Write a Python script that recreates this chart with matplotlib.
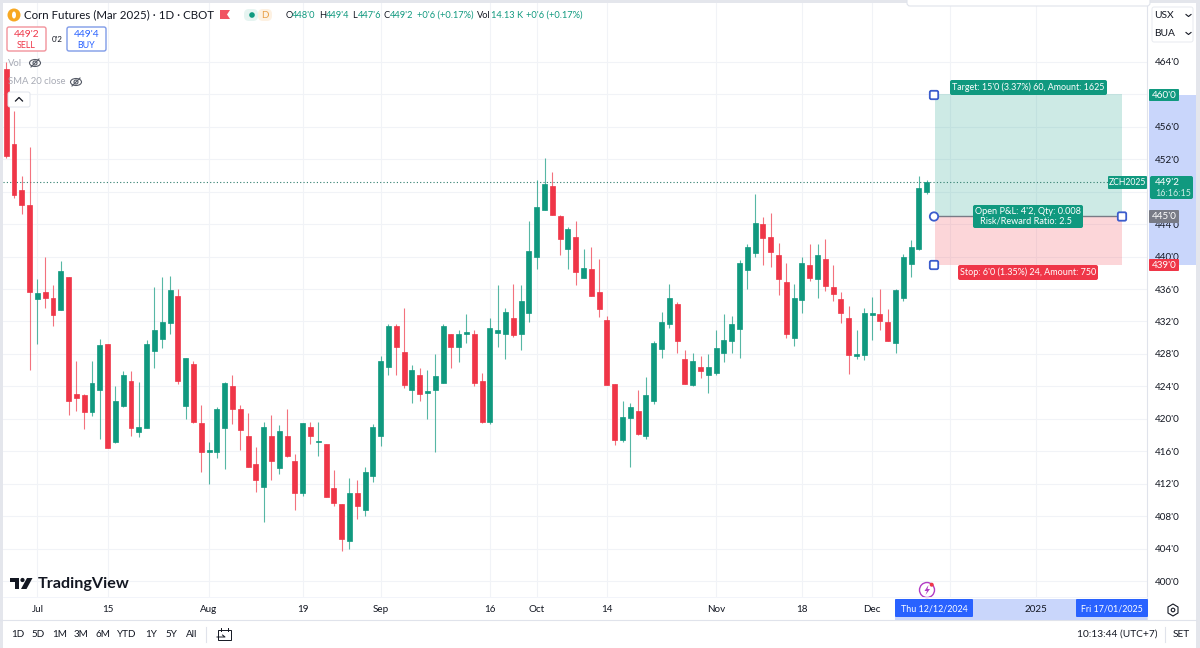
import matplotlib
matplotlib.use("Agg")
import matplotlib.pyplot as plt
from matplotlib.patches import Rectangle, FancyBboxPatch, Circle, Ellipse, Polygon

plt.rcParams['font.family'] = ['Lato', 'DejaVu Sans']

# daily candles
opens = [463.1, 453.9, 448.2, 446.4, 434.8, 435.6, 434.9, 433.4, 437.5, 423.0, 422.9, 420.9, 423.6, 429.2, 417.2, 421.6, 424.7, 418.4, 418.9, 428.4,
         429.9, 431.8, 435.2, 421.6, 426.7, 419.5, 415.9, 415.9, 418.9, 424.0, 421.2, 417.9, 414.4, 411.6, 417.9, 413.9, 417.9, 414.8, 410.9, 419.0,
         417.1, 416.9, 411.5, 409.5, 404.9, 410.9, 408.7, 412.9, 417.9, 426.4, 431.4, 428.2, 423.6, 425.4, 423.2, 423.6, 424.4, 430.4, 428.9, 430.4,
         430.5, 424.7, 419.6, 430.6, 430.4, 432.4, 430.4, 433.1, 439.9, 445.7, 448.7, 445.0, 440.9, 442.4, 437.4, 438.5, 435.6, 432.2, 424.3, 417.4,
         420.1, 421.0, 417.9, 422.2, 428.6, 431.7, 434.2, 427.4, 424.2, 426.4, 425.4, 425.6, 428.1, 429.6, 431.1, 438.4, 440.4, 444.0, 442.4, 440.2,
         436.9, 430.0, 434.7, 439.0, 437.2, 439.7, 436.2, 434.8, 432.4, 427.7, 427.9, 432.8, 432.9, 431.9, 429.4, 434.9, 439.1, 440.9, 448.0]
highs = [464.0, 458.0, 449.9, 453.5, 437.2, 440.0, 436.5, 439.4, 437.5, 427.1, 423.1, 427.1, 429.9, 429.2, 424.0, 425.9, 425.9, 424.5, 429.7, 436.2,
         437.5, 437.6, 436.0, 427.5, 427.1, 421.7, 417.2, 421.5, 424.6, 425.4, 421.7, 420.7, 416.5, 419.6, 420.5, 419.2, 421.2, 415.7, 419.5, 419.6,
         419.6, 416.9, 413.7, 409.5, 412.7, 412.5, 414.0, 419.4, 427.7, 431.7, 431.7, 433.7, 426.6, 426.3, 426.0, 428.0, 431.7, 430.5, 430.9, 432.9,
         430.9, 425.7, 432.4, 436.5, 433.7, 436.6, 436.5, 444.4, 449.4, 452.2, 450.4, 445.1, 443.6, 444.4, 440.9, 441.2, 439.7, 432.7, 424.3, 422.2,
         421.9, 423.6, 425.2, 429.6, 433.2, 436.6, 434.4, 428.5, 428.1, 427.7, 428.0, 430.9, 432.9, 432.7, 439.6, 441.6, 447.7, 444.9, 445.4, 441.7,
         439.2, 436.6, 439.9, 441.6, 441.6, 442.2, 439.0, 435.6, 433.9, 430.9, 433.7, 435.0, 436.0, 433.5, 436.0, 440.3, 442.0, 449.9, 449.5]
lows = [452.2, 447.2, 445.2, 426.0, 429.2, 433.7, 431.5, 433.4, 420.5, 421.0, 418.7, 420.3, 417.5, 416.4, 417.0, 421.5, 417.9, 417.8, 418.9, 426.3,
        428.7, 430.5, 424.3, 420.0, 419.5, 413.5, 412.0, 415.2, 413.8, 419.3, 416.2, 414.1, 411.0, 407.3, 412.5, 413.2, 415.3, 408.7, 410.5, 416.9,
        415.4, 410.4, 409.3, 403.7, 404.0, 407.7, 408.0, 412.2, 416.6, 425.4, 425.4, 423.8, 422.0, 422.2, 420.0, 415.9, 424.4, 426.3, 427.0, 429.4,
        424.0, 419.5, 419.3, 428.8, 427.4, 430.1, 428.5, 431.9, 438.5, 445.7, 445.1, 440.2, 438.5, 436.5, 437.4, 435.1, 432.5, 424.2, 416.8, 417.2,
        414.0, 418.0, 417.5, 421.8, 427.5, 431.2, 428.1, 424.3, 424.0, 425.0, 423.2, 425.4, 427.0, 428.1, 427.5, 436.0, 440.0, 439.0, 438.7, 435.3,
        430.0, 429.0, 433.0, 437.0, 434.9, 435.7, 434.5, 431.8, 425.5, 427.4, 427.2, 429.7, 430.9, 429.6, 428.1, 434.5, 437.5, 440.8, 447.75]
closes = [452.4, 447.6, 446.4, 435.6, 435.5, 434.9, 432.8, 438.2, 422.2, 422.6, 420.9, 424.4, 429.1, 416.4, 422.2, 425.4, 418.9, 419.0, 429.2, 430.9,
          431.9, 435.9, 424.7, 427.5, 419.6, 415.9, 416.2, 421.2, 424.4, 421.2, 418.6, 414.1, 412.4, 419.0, 414.8, 418.5, 415.4, 410.9, 419.5, 417.9,
          417.3, 410.4, 409.6, 405.2, 410.9, 409.2, 413.4, 419.0, 427.1, 431.4, 428.9, 424.2, 426.0, 423.1, 423.4, 425.3, 431.4, 428.9, 430.5, 430.7,
          424.4, 419.6, 431.2, 430.9, 433.2, 430.3, 434.5, 440.7, 446.1, 448.9, 445.1, 442.2, 443.4, 438.1, 438.6, 435.2, 433.5, 424.2, 417.4, 420.2,
          421.5, 418.1, 422.9, 429.4, 431.9, 434.9, 429.6, 424.3, 427.1, 425.9, 426.4, 428.7, 429.7, 431.7, 439.2, 441.2, 444.1, 442.3, 440.6, 437.2,
          430.4, 434.9, 439.2, 437.4, 440.2, 436.4, 435.4, 433.1, 427.9, 428.0, 433.1, 433.1, 432.1, 429.6, 435.9, 439.9, 441.2, 448.5, 449.25]

time_idx = [4, 13, 26, 38, 48, 62, 68, 77, 91, 102, 111, 121, 132]
time_labels = ['Jul', '15', 'Aug', '19', 'Sep', '16', 'Oct', '14', 'Nov', '18', 'Dec', '', '2025']
price_ticks = [400, 404, 408, 412, 416, 420, 424, 428, 432, 436, 440, 444, 448, 452, 456, 460, 464]
hidden_ticks = [448, 460]  # sit under the price tags

last_price = 449.25
entry = 445
target = 460
stop = 439
pos_start = 119
pos_end = 143

green = '#10997F'
red = '#EF3648'
blue = '#2962FF'
ink = '#131722'
grid_col = '#F1F3F7'

fig = plt.figure(figsize=(12, 6.48), dpi=100, facecolor='white')
ax = fig.add_axes([3 / 1200, 51 / 648, 1144 / 1200, 594 / 648])
ax.set_xlim(-0.42, 146.24)
ax.set_ylim(398.03, 471.27)

# grid + axes
ax.set_axisbelow(True)
ax.grid(True, color=grid_col, lw=0.8)
ax.yaxis.tick_right()
ax.set_yticks(price_ticks, ['' if p in hidden_ticks else "%d'0" % p for p in price_ticks])
ax.set_xticks(time_idx, time_labels)
ax.tick_params(axis='y', length=0, pad=6, labelsize=7.1, labelcolor=ink)
ax.tick_params(axis='x', length=0, pad=6, labelsize=7.1, labelcolor=ink)
for s in ax.spines.values():
    s.set_visible(False)

# position tool
ax.add_patch(Rectangle((pos_start, entry), pos_end - pos_start, target - entry, fc='#089981', alpha=0.2, lw=0, zorder=1))
ax.add_patch(Rectangle((pos_start, stop), pos_end - pos_start, entry - stop, fc='#F23645', alpha=0.2, lw=0, zorder=1))
ax.plot([pos_start, pos_end], [entry, entry], color='#787B86', lw=1, zorder=2)

# last price line
ax.axhline(last_price, color='#2f7d6d', lw=0.8, ls=(0, (1, 2)), zorder=2)

# candles
for i in range(len(opens)):
    col = green if closes[i] >= opens[i] else red
    ax.vlines(i, lows[i], highs[i], color=col, lw=0.8, alpha=0.7, zorder=3)
    ax.bar(i, abs(closes[i] - opens[i]), 0.62, min(opens[i], closes[i]), color=col, edgecolor=col, lw=0.5, zorder=4)

# everything around the chart, in screen pixels
ui = fig.add_axes([0, 0, 1, 1], facecolor='none', zorder=5)
ui.set_xlim(0, 1200)
ui.set_ylim(648, 0)
ui.axis('off')


def txt(x, y, s, color=ink, size=7.1, ha='left', weight='normal'):
    ui.text(x, y, s, color=color, fontsize=size, ha=ha, va='center', fontweight=weight, zorder=6)


def box(x0, y0, x1, y1, fc, ec='none', r=2, lw=1.0, z=3):
    ui.add_patch(FancyBboxPatch((x0 + r, y0 + r), x1 - x0 - 2 * r, y1 - y0 - 2 * r,
                                boxstyle='round,pad=%g,rounding_size=%g' % (r, r),
                                fc=fc, ec=ec, lw=lw, zorder=z))


def eye(x, y):
    ui.add_patch(Ellipse((x, y), 11, 7, fc='none', ec='#555a66', lw=0.8))
    ui.add_patch(Circle((x, y), 2, fc='none', ec='#555a66', lw=0.8))
    ui.plot([x - 4, x + 4], [y + 4, y - 4], color='#555a66', lw=0.8)


# window frame
ui.add_patch(Rectangle((0, 0), 1200, 3, fc='#E4E6EC', lw=0))
ui.add_patch(Rectangle((0, 0), 3, 648, fc='#E4E6EC', lw=0))
ui.add_patch(Rectangle((1196, 0), 4, 648, fc='#E4E6EC', lw=0))
ui.plot([0, 1196], [620, 620], color='#E0E3EB', lw=0.8)
ui.plot([1147, 1147], [3, 620], color='#E0E3EB', lw=0.8)
ui.plot([3, 1147], [597, 597], color='#F0F3FA', lw=0.6)

# popup stub at the top
box(907, -8, 1150, 6, 'white', '#E0E3EB', r=3, lw=0.8)

# header
ui.add_patch(Circle((14, 15), 6.5, fc='#F7A823', lw=0))
ui.add_patch(Ellipse((14, 15), 4, 7, fc='white', lw=0))
txt(24, 15, 'Corn Futures (Mar 2025) · 1D · CBOT', size=8.3)
ui.add_patch(Polygon([(220, 10), (230, 10), (227, 14.5), (230, 19), (220, 19)], fc=red, alpha=0.85, lw=0))
box(244, 9, 258, 21, '#E6F4F1', r=5)
box(258, 9, 272, 21, '#FDF1E2', r=5)
ui.add_patch(Circle((252, 15), 2.8, fc=green, lw=0, zorder=4))
txt(265, 15, 'D', color='#E8A048', size=7, ha='center')
for x, s, c in [(285.7, "O", ink), (291.5, "448'0", green), (319, "H", ink), (325.5, "449'4", green),
                (352.5, "L", ink), (358, "447'6", green), (384, "C", ink), (389.5, "449'2", green),
                (417, "+0'6 (+0.17%)", green), (477, "Vol", ink), (491, "14.13 K", green), (526, "+0'6 (+0.17%)", green)]:
    txt(x, 15, s, color=c, size=6.7)

# sell / buy
box(7, 27, 46, 51, 'white', '#F2929B')
txt(26.5, 34.5, "449'2", color=red, size=7.4, ha='center')
txt(26.5, 45, 'SELL', color=red, size=6.4, ha='center')
box(67, 27, 106, 51, 'white', '#7F9BE8')
txt(86.5, 34.5, "449'4", color=blue, size=7.4, ha='center')
txt(86.5, 45, 'BUY', color=blue, size=6.4, ha='center')
txt(57, 39.5, "0'2", size=5.8, ha='center')

txt(8, 64, 'Vol', color='#A8ABB5', size=6.8)
eye(35, 63)
txt(8, 82, 'SMA 20 close', color='#A8ABB5', size=6.8)
eye(76, 82)
box(8, 92, 30, 107, 'white', '#E0E3EB', r=2, lw=0.7)
ui.plot([15.5, 19, 22.5], [101, 97.5, 101], color=ink, lw=0.9, zorder=4)

# currency / unit
box(1152, 7, 1193, 42, 'white', '#E8EAF0', r=2, lw=0.7)
txt(1154, 15.5, 'USX', size=7.4)
txt(1154, 33.5, 'BUA', size=7.4)
for y in (15.5, 33.5):
    ui.plot([1186, 1188.5, 1191], [y - 1, y + 1, y - 1], color=ink, lw=0.8, zorder=4)

# highlighted ranges on the axes, behind the tick labels
for rect in [(1149, 95, 47, 170), (895, 599, 252, 21)]:
    fig.add_artist(Rectangle(rect[:2], rect[2], rect[3], fc='#C9D6FB', lw=0, transform=ui.transData, zorder=-1))
box(895, 599, 973, 617, blue, r=1)
box(1076, 599, 1148, 617, blue, r=1)
txt(934, 608.5, 'Thu 12/12/2024', color='white', size=6.4, ha='center')
txt(1112, 608.5, 'Fri 17/01/2025', color='white', size=6.4, ha='center')

# price tags
box(1149, 89, 1179, 101, green, r=1)
txt(1164, 95, "460'0", color='white', size=7.1, ha='center')
box(1108, 176, 1147, 189, green, r=1)
txt(1127.5, 182.5, 'ZCH2025', color='white', size=6.2, ha='center')
box(1150, 176, 1193, 199, green, r=2)
txt(1155, 182.5, "449'2", color='white', size=7.1)
txt(1155, 193, '16:16:15', color='#CFEDE7', size=6.4)
box(1149, 210, 1179, 223, '#787B86', r=1)
txt(1164, 216.5, "445'0", color='white', size=7.1, ha='center')
box(1149, 259, 1179, 271, red, r=1)
txt(1164, 265, "439'0", color='white', size=7.1, ha='center')

# position tool labels
box(950, 80, 1107, 95, green, r=2)
txt(1028.5, 87.5, "Target: 15'0 (3.37%) 60, Amount: 1625", color='white', size=6.4, ha='center')
box(973, 205, 1083, 228, green, r=2)
txt(1028, 211.5, "Open P&L: 4'2, Qty: 0.008", color='white', size=6.6, ha='center')
txt(1026, 220.5, 'Risk/Reward Ratio: 2.5', color='white', size=6.6, ha='center')
box(958, 265, 1098, 280, red, r=2)
txt(1028, 272.5, "Stop: 6'0 (1.35%) 24, Amount: 750", color='white', size=6.5, ha='center')

# handles
for x, y in [(934, 95), (934, 265), (1122, 216.5)]:
    box(x - 4.2, y - 4.2, x + 4.2, y + 4.2, 'white', '#3B5CCC', r=1.5, lw=1.3, z=4)
ui.add_patch(Circle((934, 216.5), 4.2, fc='white', ec='#3B5CCC', lw=1.3, zorder=4))

# logo
ui.add_patch(Polygon([(10, 578), (19, 578), (19, 589), (14.5, 589), (14.5, 582), (10, 582)], fc=ink, lw=0))
ui.add_patch(Circle((22.5, 580), 2.1, fc=ink, lw=0))
ui.add_patch(Polygon([(27, 578), (32.5, 578), (26.5, 589), (21, 589)], fc=ink, lw=0))
txt(38, 584, 'TradingView', size=11.6, weight='bold')

# lightning badge
ui.add_patch(Circle((927, 590), 7.5, fc='white', ec='#B23CC4', lw=1))
ui.add_patch(Polygon([(928.5, 585), (924.5, 591), (927, 591), (925.5, 595), (930, 589), (927.5, 589)], fc='#B23CC4', lw=0))
ui.add_patch(Circle((931.7, 584.7), 2, fc=red, lw=0))

# gear on the time axis
ui.add_patch(Polygon([(1173, 604), (1178, 607), (1178, 613), (1173, 616), (1168, 613), (1168, 607)], fc='none', ec=ink, lw=0.8))
ui.add_patch(Circle((1173, 610), 1.8, fc='none', ec=ink, lw=0.8))

# bottom toolbar
for x, s in [(18, '1D'), (38, '5D'), (60, '1M'), (81, '3M'), (103, '6M'), (127, 'YTD'), (151, '1Y'), (171, '5Y'), (192, 'All')]:
    txt(x, 634.5, s, size=7.1, ha='center')
ui.plot([206, 206], [627, 642], color='#E0E3EB', lw=0.8)
ui.add_patch(Rectangle((218, 630), 13, 10, fc='none', ec=ink, lw=0.7))
ui.plot([217, 225, 222.5], [637, 637, 635], color=ink, lw=0.7)
ui.plot([221, 221], [628, 631], color=ink, lw=0.7)
ui.plot([228, 228], [628, 631], color=ink, lw=0.7)
txt(1117, 634.5, '10:13:44 (UTC+7)', size=7.3, ha='center')
ui.plot([1165, 1165], [627, 642], color='#E0E3EB', lw=0.8)
txt(1181, 634.5, 'SET', size=7.3, ha='center')

fig.savefig('out.png', dpi=100)
